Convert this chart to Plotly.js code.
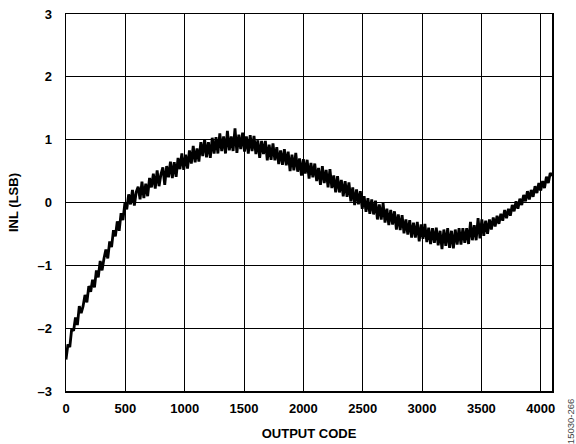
<!DOCTYPE html>
<html>
<head>
<meta charset="utf-8">
<script src="https://cdn.plot.ly/plotly-3.0.1.min.js"></script>
<style>html,body{margin:0;padding:0;background:#fff;}#chart{width:576px;height:444px;}</style>
</head>
<body>
<div id="chart"></div>
<script>
// Sample spacing of the read-off trace (output codes)
const codeStep = 16;
const lastCode = 4095;
const inl = [
  -2.50, -2.26, -2.30, -2.01, -2.04, -1.83, -1.95, -1.65, -1.76, -1.65, -1.47, -1.59, -1.33, -1.42, -1.23, -1.35,
  -1.08, -1.19, -0.93, -1.08, -0.89, -0.75, -0.89, -0.62, -0.71, -0.44, -0.54, -0.30, -0.45, -0.17, -0.28, -0.01,
  -0.11, 0.13, -0.03, 0.20, -0.05, 0.17, 0.25, 0.05, 0.33, 0.07, 0.30, 0.10, 0.39, 0.24, 0.46, 0.22,
  0.51, 0.26, 0.45, 0.56, 0.28, 0.58, 0.40, 0.65, 0.39, 0.64, 0.41, 0.71, 0.53, 0.78, 0.52, 0.76,
  0.54, 0.83, 0.62, 0.90, 0.64, 0.86, 0.65, 0.96, 0.74, 1.01, 0.72, 0.96, 0.71, 1.03, 0.78, 1.04,
  0.78, 1.10, 0.82, 1.05, 0.78, 1.14, 0.83, 1.05, 0.82, 1.18, 0.79, 1.08, 0.85, 1.11, 0.81, 1.05,
  0.78, 1.07, 0.82, 1.06, 0.77, 0.99, 0.71, 0.98, 0.77, 0.98, 0.67, 0.92, 0.68, 0.94, 0.67, 0.88,
  0.61, 0.83, 0.60, 0.85, 0.59, 0.81, 0.50, 0.76, 0.51, 0.79, 0.49, 0.70, 0.43, 0.69, 0.46, 0.68,
  0.38, 0.63, 0.40, 0.62, 0.34, 0.55, 0.28, 0.58, 0.31, 0.52, 0.24, 0.53, 0.23, 0.43, 0.16, 0.42,
  0.16, 0.36, 0.10, 0.34, 0.09, 0.32, 0.02, 0.24, -0.04, 0.21, -0.03, 0.18, -0.10, 0.10, -0.15, 0.07,
  -0.18, 0.05, -0.19, 0.03, -0.27, -0.03, -0.27, -0.01, -0.32, -0.10, -0.36, -0.12, -0.35, -0.14, -0.43, -0.19,
  -0.44, -0.20, -0.49, -0.27, -0.51, -0.28, -0.56, -0.32, -0.56, -0.31, -0.62, -0.35, -0.58, -0.34, -0.63, -0.40,
  -0.66, -0.41, -0.64, -0.40, -0.68, -0.45, -0.74, -0.43, -0.69, -0.41, -0.72, -0.45, -0.73, -0.43, -0.67, -0.41,
  -0.67, -0.41, -0.64, -0.41, -0.66, -0.31, -0.60, -0.36, -0.60, -0.25, -0.57, -0.27, -0.53, -0.29, -0.50, -0.27,
  -0.43, -0.24, -0.38, -0.21, -0.34, -0.18, -0.29, -0.12, -0.25, -0.10, -0.21, -0.04, -0.14, 0.02, -0.10, 0.06,
  -0.04, 0.12, 0.02, 0.18, 0.05, 0.20, 0.09, 0.26, 0.15, 0.31, 0.19, 0.34, 0.23, 0.41, 0.31, 0.47,
  0.42
];
const xTicks = [0, 500, 1000, 1500, 2000, 2500, 3000, 3500, 4000];
const yTicks = [-3, -2, -1, 0, 1, 2, 3];
const xTitle = 'OUTPUT CODE';
const yTitle = 'INL (LSB)';
const figureId = '15030-266';

const codes = inl.map((v, i) => Math.min(i * codeStep, lastCode));

const font = {family: 'Liberation Sans, Arial, sans-serif', size: 13, color: '#000', weight: 'bold'};

Plotly.newPlot('chart', [{
  x: codes, y: inl, type: 'scatter', mode: 'lines',
  line: {color: '#000', width: 2.8}, hoverinfo: 'skip'
}], {
  width: 576, height: 444,
  margin: {l: 66, r: 24, t: 14, b: 53},
  paper_bgcolor: '#fff', plot_bgcolor: '#fff',
  showlegend: false,
  xaxis: {
    range: [0, 4095], tickvals: xTicks, ticktext: xTicks.map(String),
    showgrid: true, gridcolor: '#000', gridwidth: 1,
    showline: true, linecolor: '#000', linewidth: 1.5, mirror: true,
    zeroline: false, ticks: '', tickfont: font, ticklabelstandoff: 5,
    title: {text: xTitle, font: font, standoff: 14}
  },
  yaxis: {
    range: [-3, 3], tickvals: yTicks, ticktext: yTicks.map(v => v < 0 ? '\u2013' + Math.abs(v) : String(v)),
    showgrid: true, gridcolor: '#000', gridwidth: 1,
    showline: true, linecolor: '#000', linewidth: 1.5, mirror: true,
    zeroline: false, ticks: '', tickfont: font, ticklabelstandoff: 10,
    title: {text: yTitle, font: font, standoff: 16}
  },
  annotations: [{
    text: figureId, xref: 'paper', yref: 'paper', x: 1.037, y: -0.08,
    xanchor: 'center', yanchor: 'middle', textangle: -90, showarrow: false,
    font: {family: 'Liberation Sans, Arial, sans-serif', size: 9.5, color: '#444'}
  }]
}, {staticPlot: true, displayModeBar: false});
</script>
</body>
</html>
